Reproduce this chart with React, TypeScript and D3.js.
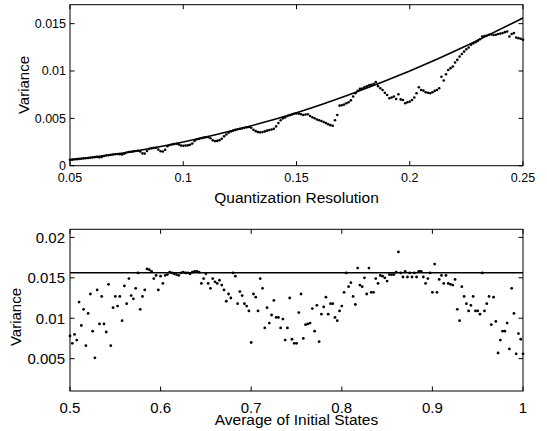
import React from "react";
import * as d3 from "d3";

// ---------- Top panel data ----------
const topXStart = 0.05;
const topXStep = 0.001;
const topValues = [
  0.00062, 0.00064, 0.00067, 0.00069, 0.00072, 0.00074, 0.00077, 0.00079, 0.00082, 0.00084,
  0.00087, 0.00091, 0.00093, 0.00088, 0.00093, 0.00102, 0.00107, 0.00111, 0.00115, 0.00118,
  0.00121, 0.00124, 0.00122, 0.00118, 0.00127, 0.00139, 0.00144, 0.00147, 0.00151, 0.00155,
  0.00158, 0.0015, 0.0013, 0.00128, 0.00155, 0.00178, 0.00183, 0.00188, 0.0019, 0.0017,
  0.00152, 0.0015, 0.00168, 0.00205, 0.00219, 0.00224, 0.00228, 0.00232, 0.00225, 0.00212,
  0.0021, 0.00212, 0.00215, 0.00222, 0.00235, 0.00262, 0.00278, 0.00285, 0.0029, 0.00296,
  0.003, 0.00302, 0.0029, 0.00268, 0.0026, 0.00262, 0.0027, 0.00285, 0.0031, 0.0033,
  0.00348, 0.00362, 0.0037, 0.00378, 0.00385, 0.0039, 0.00394, 0.004, 0.00405, 0.00408,
  0.004, 0.0038, 0.00365, 0.00355, 0.00352, 0.00355, 0.00362, 0.0037, 0.00377, 0.00382,
  0.0039, 0.00415, 0.0045, 0.0048, 0.005, 0.0051, 0.00525, 0.00533, 0.0054, 0.00548,
  0.00552, 0.0055, 0.00543, 0.00536, 0.0054, 0.00543, 0.00525, 0.00512, 0.00501, 0.00488,
  0.0048, 0.00472, 0.00462, 0.0045, 0.00438, 0.00428, 0.00422, 0.0048, 0.00536, 0.00634,
  0.00638, 0.00645, 0.0066, 0.0067, 0.0069, 0.0073, 0.00765, 0.0079, 0.00811, 0.00815,
  0.00828, 0.00838, 0.0085, 0.00855, 0.00862, 0.00882, 0.0084, 0.00818, 0.008, 0.0077,
  0.00747, 0.00712, 0.0072, 0.0073, 0.00705, 0.00755, 0.007, 0.00694, 0.0066, 0.0067,
  0.00677, 0.00694, 0.0072, 0.00765, 0.00829, 0.008, 0.00793, 0.00776, 0.0077, 0.00765,
  0.00776, 0.0079, 0.008, 0.00818, 0.0094, 0.009, 0.00966, 0.0101, 0.0103, 0.01047,
  0.0109, 0.01117, 0.01152, 0.0118, 0.01205, 0.0123, 0.01248, 0.01276, 0.0129, 0.01304,
  0.01318, 0.01335, 0.01364, 0.0137, 0.01375, 0.01382, 0.01385, 0.0138, 0.01382, 0.0139,
  0.01395, 0.014, 0.0141, 0.01417, 0.01364, 0.0139, 0.014, 0.01353, 0.01347, 0.0134,
  0.0133,
];
const topCurveX = [0.05, 0.075, 0.1, 0.125, 0.15, 0.175, 0.2, 0.225, 0.25];
const topCurveY = [0.000625, 0.0014, 0.0025, 0.0039, 0.0056, 0.00766, 0.01, 0.01266, 0.0156];
const topXTicks = [0.05, 0.1, 0.15, 0.2, 0.25];
const topXLabels = ["0.05", "0.1", "0.15", "0.2", "0.25"];
const topYTicks = [0, 0.005, 0.01, 0.015];
const topYLabels = ["0", "0.005", "0.01", "0.015"];

// ---------- Bottom panel data ----------
const botXStart = 0.5;
const botXStep = 0.0025;
const botValues = [
  0.0078, 0.0069, 0.008, 0.0073, 0.012, 0.0091, 0.0111, 0.0066, 0.0106, 0.013,
  0.0084, 0.0051, 0.0135, 0.0093, 0.0127, 0.0093, 0.0083, 0.0142, 0.0066, 0.0113,
  0.0127, 0.0115, 0.0127, 0.0097, 0.014, 0.0118, 0.0149, 0.0128, 0.0124, 0.0137,
  0.0156, 0.0111, 0.0127, 0.0135, 0.0161, 0.016, 0.0158, 0.0149, 0.0153, 0.0135,
  0.0152, 0.0143, 0.0153, 0.0154, 0.0157, 0.0156, 0.0155, 0.0154, 0.0153, 0.0156,
  0.0157, 0.0156, 0.0156, 0.0155, 0.0157, 0.0158, 0.0158, 0.0157, 0.0143, 0.0149,
  0.0155, 0.0143, 0.0137, 0.0149, 0.0145, 0.0143, 0.0147, 0.0141, 0.0135, 0.0121,
  0.013, 0.0125, 0.0156, 0.0152, 0.0118, 0.0133, 0.0128, 0.0118, 0.0115, 0.0109,
  0.007, 0.013, 0.0126, 0.0109, 0.0149, 0.0137, 0.0088, 0.0113, 0.0094, 0.0104,
  0.0122, 0.0101, 0.0101, 0.0088, 0.0099, 0.0073, 0.0088, 0.0125, 0.0074, 0.0069,
  0.0069, 0.0107, 0.013, 0.0075, 0.0092, 0.0093, 0.0094, 0.0112, 0.0084, 0.0116,
  0.0071, 0.0105, 0.0114, 0.0126, 0.0105, 0.0118, 0.0118, 0.0101, 0.0097, 0.0109,
  0.0115, 0.0132, 0.0156, 0.0139, 0.0144, 0.0127, 0.0117, 0.0162, 0.0141, 0.0139,
  0.015, 0.013, 0.0162, 0.0132, 0.0132, 0.0149, 0.0143, 0.0153, 0.0152, 0.015,
  0.0146, 0.0154, 0.0154, 0.0154, 0.0157, 0.0182, 0.0156, 0.0151, 0.0158, 0.0151,
  0.0156, 0.0151, 0.0156, 0.0151, 0.0158, 0.0158, 0.0151, 0.0143, 0.0149, 0.0156,
  0.0132, 0.0167, 0.0132, 0.0148, 0.0153, 0.0143, 0.0153, 0.0143, 0.0142, 0.0141,
  0.0148, 0.0111, 0.0097, 0.0139, 0.0127, 0.0118, 0.0109, 0.0116, 0.0127, 0.0109,
  0.0109, 0.0105, 0.0156, 0.0109, 0.0118, 0.0127, 0.0092, 0.0126, 0.0096, 0.0057,
  0.0073, 0.0084, 0.0084, 0.0094, 0.0062, 0.0137, 0.0106, 0.0056, 0.0081, 0.0074,
  0.0056,
];
const botLineY = 0.015625;
const botXTicks = [0.5, 0.6, 0.7, 0.8, 0.9, 1];
const botXLabels = ["0.5", "0.6", "0.7", "0.8", "0.9", "1"];
const botYTicks = [0.005, 0.01, 0.015, 0.02];
const botYLabels = ["0.005", "0.01", "0.015", "0.02"];

const FONT = "'Liberation Sans', Arial, Helvetica, sans-serif";

type PanelProps = {
  xDomain: [number, number];
  yDomain: [number, number];
  top: number;
  bottom: number;
  xTicks: number[];
  xLabels: string[];
  yTicks: number[];
  yLabels: string[];
  tickFont: number;
  yLabelGap: number;
  xLabelBaseline: number;
  xTitle: string;
  xTitleBaseline: number;
  yTitleX: number;
  yTitleY: number;
  children: (x: d3.ScaleLinear<number, number>, y: d3.ScaleLinear<number, number>) => React.ReactNode;
};

const LEFT = 70;
const RIGHT = 523;
const TICK = 4.5;
const TITLE_FONT = 15.5;

function Panel(p: PanelProps) {
  const x = d3.scaleLinear().domain(p.xDomain).range([LEFT, RIGHT]);
  const y = d3.scaleLinear().domain(p.yDomain).range([p.bottom, p.top]);
  return (
    <g>
      <g>{p.children(x, y)}</g>
      <rect x={LEFT} y={p.top} width={RIGHT - LEFT} height={p.bottom - p.top} fill="none" stroke="#000" strokeWidth={1} />
      {p.xTicks.map((t, i) => (
        <g key={"xt" + i}>
          <line x1={x(t)} x2={x(t)} y1={p.bottom} y2={p.bottom - TICK} stroke="#000" strokeWidth={1} />
          <line x1={x(t)} x2={x(t)} y1={p.top} y2={p.top + TICK} stroke="#000" strokeWidth={1} />
          <text x={x(t)} y={p.xLabelBaseline} textAnchor="middle" fontSize={p.tickFont} fontFamily={FONT}>
            {p.xLabels[i]}
          </text>
        </g>
      ))}
      {p.yTicks.map((t, i) => (
        <g key={"yt" + i}>
          <line x1={LEFT} x2={LEFT + TICK} y1={y(t)} y2={y(t)} stroke="#000" strokeWidth={1} />
          <line x1={RIGHT} x2={RIGHT - TICK} y1={y(t)} y2={y(t)} stroke="#000" strokeWidth={1} />
          <text x={LEFT - p.yLabelGap} y={y(t)} dy="0.36em" textAnchor="end" fontSize={p.tickFont} fontFamily={FONT}>
            {p.yLabels[i]}
          </text>
        </g>
      ))}
      <text x={(LEFT + RIGHT) / 2} y={p.xTitleBaseline} textAnchor="middle" fontSize={TITLE_FONT} fontFamily={FONT}>
        {p.xTitle}
      </text>
      <text
        transform={`translate(${p.yTitleX},${p.yTitleY}) rotate(-90)`}
        textAnchor="middle"
        fontSize={15}
        fontFamily={FONT}
      >
        Variance
      </text>
    </g>
  );
}

export default function App() {
  return (
    <svg width={547} height={431} style={{ display: "block", position: "absolute", left: 0, top: 0, background: "#fff" }}>
      <rect width={547} height={431} fill="#fff" />
      <Panel
        xDomain={[0.05, 0.25]}
        yDomain={[0, 0.017]}
        top={4.7}
        bottom={165.7}
        xTicks={topXTicks}
        xLabels={topXLabels}
        yTicks={topYTicks}
        yLabels={topYLabels}
        tickFont={12.5}
        yLabelGap={4}
        xLabelBaseline={181.5}
        xTitle="Quantization Resolution"
        xTitleBaseline={203}
        yTitleX={28.5}
        yTitleY={85}
      >
        {(x, y) => {
          const line = d3
            .line<number>()
            .x((_, i) => x(topCurveX[i]))
            .y((d) => y(d))
            .curve(d3.curveNatural);
          return (
            <g>
              {topValues.map((v, i) => (
                <circle key={i} cx={x(topXStart + topXStep * i)} cy={y(v)} r={1.3} fill="#000" />
              ))}
              <path d={line(topCurveY) || ""} fill="none" stroke="#000" strokeWidth={1.6} />
            </g>
          );
        }}
      </Panel>
      <Panel
        xDomain={[0.5, 1]}
        yDomain={[0.001, 0.021]}
        top={229.3}
        bottom={391}
        xTicks={botXTicks}
        xLabels={botXLabels}
        yTicks={botYTicks}
        yLabels={botYLabels}
        tickFont={15}
        yLabelGap={5}
        xLabelBaseline={412.5}
        xTitle="Average of Initial States"
        xTitleBaseline={424.5}
        yTitleX={20.5}
        yTitleY={317}
      >
        {(x, y) => (
          <g>
            {botValues.map((v, i) => (
              <circle key={i} cx={x(botXStart + botXStep * i)} cy={y(v)} r={1.4} fill="#000" />
            ))}
            <line x1={x(0.5)} x2={x(1)} y1={y(botLineY)} y2={y(botLineY)} stroke="#000" strokeWidth={1.6} />
          </g>
        )}
      </Panel>
    </svg>
  );
}
